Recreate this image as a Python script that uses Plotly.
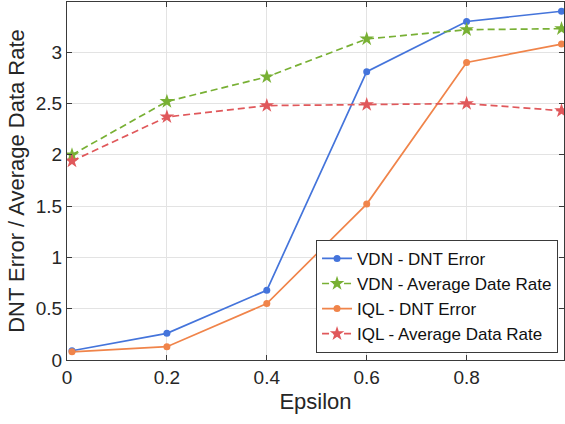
import plotly.graph_objects as go

epsilon = [0.01, 0.2, 0.4, 0.6, 0.8, 0.99]
vdn_dnt_error = [0.09, 0.26, 0.68, 2.81, 3.30, 3.40]
vdn_avg_rate = [2.00, 2.52, 2.76, 3.13, 3.22, 3.23]
iql_dnt_error = [0.08, 0.13, 0.55, 1.52, 2.90, 3.08]
iql_avg_rate = [1.94, 2.37, 2.48, 2.49, 2.50, 2.43]

series_names = ["VDN - DNT Error", "VDN - Average Date Rate",
                "IQL - DNT Error", "IQL - Average Data Rate"]

x_tick_vals = [0, 0.2, 0.4, 0.6, 0.8]
x_tick_text = ["0", "0.2", "0.4", "0.6", "0.8"]
y_tick_vals = [0, 0.5, 1, 1.5, 2, 2.5, 3]
y_tick_text = ["0", "0.5", "1", "1.5", "2", "2.5", "3"]

FONT = "Liberation Sans, Arial, Helvetica, sans-serif"
AX = "#3a3a3a"

fig = go.Figure()
fig.add_trace(go.Scatter(x=epsilon, y=vdn_dnt_error, name=series_names[0],
                         mode="lines+markers",
                         line=dict(color="#4474DB", width=1.7),
                         marker=dict(symbol="circle", size=7, color="#4474DB")))
fig.add_trace(go.Scatter(x=epsilon, y=vdn_avg_rate, name=series_names[1],
                         mode="lines+markers",
                         line=dict(color="#78B034", width=1.7, dash="7px,4px"),
                         marker=dict(symbol="star", size=11, color="#78B034")))
fig.add_trace(go.Scatter(x=epsilon, y=iql_dnt_error, name=series_names[2],
                         mode="lines+markers",
                         line=dict(color="#F0844A", width=1.7),
                         marker=dict(symbol="circle", size=7, color="#F0844A")))
fig.add_trace(go.Scatter(x=epsilon, y=iql_avg_rate, name=series_names[3],
                         mode="lines+markers",
                         line=dict(color="#E0585B", width=1.7, dash="7px,4px"),
                         marker=dict(symbol="star", size=11, color="#E0585B")))

fig.update_layout(
    width=565, height=424,
    margin=dict(l=67, r=1, t=2, b=64),
    paper_bgcolor="white", plot_bgcolor="white",
    font=dict(family=FONT, size=19, color="#262626"),
    showlegend=True,
    legend=dict(x=0.988, y=0.02, xanchor="right", yanchor="bottom",
                bgcolor="white", bordercolor=AX, borderwidth=1,
                font=dict(size=17, color="#111111"),
                tracegroupgap=0, itemwidth=30,
                traceorder="normal"),
)
fig.update_xaxes(
    range=[0, 0.995], tickvals=x_tick_vals, ticktext=x_tick_text,
    showgrid=True, gridcolor="#e3e3e3", gridwidth=1,
    showline=True, linecolor=AX, linewidth=1, mirror="ticks",
    ticks="inside", ticklen=5, tickcolor=AX,
    zeroline=False,
    title=dict(text="Epsilon", font=dict(size=22), standoff=6),
    tickfont=dict(size=19),
)
fig.update_yaxes(
    range=[0, 3.49], tickvals=y_tick_vals, ticktext=y_tick_text,
    showgrid=True, gridcolor="#e3e3e3", gridwidth=1,
    showline=True, linecolor=AX, linewidth=1, mirror="ticks",
    ticks="inside", ticklen=5, tickcolor=AX,
    zeroline=False,
    title=dict(text="DNT Error / Average Data Rate", font=dict(size=22), standoff=5),
    tickfont=dict(size=19),
)

fig.write_html("out.html")
